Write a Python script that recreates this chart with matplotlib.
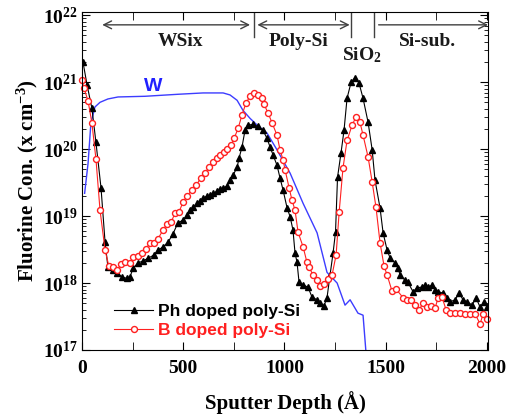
import numpy as np
import matplotlib
matplotlib.use('Agg')
import matplotlib.pyplot as plt
from matplotlib.ticker import MultipleLocator, LogLocator, FuncFormatter, NullFormatter

plt.rcParams['font.family'] = ['Liberation Serif', 'DejaVu Serif']
plt.rcParams['font.weight'] = 'bold'
plt.rcParams['mathtext.fontset'] = 'custom'
plt.rcParams['mathtext.rm'] = 'Liberation Serif:bold'
plt.rcParams['mathtext.bf'] = 'Liberation Serif:bold'
plt.rcParams['mathtext.it'] = 'Liberation Serif:bold'

# Ph doped poly-Si (depth in Å, log10 of F concentration)
ph_depth = [5, 25, 49, 69, 94, 114, 128, 153, 173, 198, 222, 237, 252, 277, 301, 326, 356, 375, 400, 425,
            450, 474, 499, 519, 534, 548, 568, 583, 598, 618, 632, 647, 667, 682, 697, 716, 731, 746, 766,
            776, 790, 805, 820, 845, 869, 894, 914, 929, 944, 963, 978, 993, 1013, 1028, 1042, 1052, 1062,
            1072, 1092, 1116, 1136, 1161, 1176, 1195, 1210, 1225, 1240, 1252, 1262, 1279, 1294, 1309,
            1329, 1349, 1368, 1388, 1413, 1433, 1447, 1472, 1487, 1507, 1522, 1546, 1561, 1571, 1596,
            1610, 1635, 1655, 1680, 1694, 1709, 1729, 1744, 1759, 1783, 1803, 1818, 1843, 1862, 1882,
            1902, 1927, 1946, 1966, 1986, 2001]
ph_log = [21.30, 20.96, 20.61, 20.10, 19.42, 18.61, 18.24, 18.19, 18.15, 18.09, 18.07, 18.09, 18.22, 18.30,
          18.33, 18.37, 18.42, 18.49, 18.54, 18.61, 18.74, 18.90, 18.94, 19.01, 19.09, 19.13, 19.19, 19.22,
          19.27, 19.30, 19.31, 19.34, 19.37, 19.40, 19.42, 19.45, 19.54, 19.61, 19.73, 19.87, 20.03, 20.28,
          20.36, 20.37, 20.34, 20.28, 20.16, 20.03, 19.91, 19.76, 19.57, 19.39, 19.12, 18.99, 18.79, 18.45,
          18.31, 18.01, 17.97, 17.94, 17.79, 17.75, 17.70, 17.66, 17.78, 18.12, 18.45, 18.76, 19.58, 19.94,
          20.28, 20.76, 21.00, 21.07, 20.99, 20.76, 20.40, 19.99, 19.54, 19.12, 18.75, 18.49, 18.37, 18.30,
          18.22, 18.12, 18.04, 18.01, 17.87, 17.93, 17.94, 17.97, 17.94, 17.97, 17.90, 17.87, 17.85, 17.78,
          17.72, 17.75, 17.85, 17.75, 17.72, 17.67, 17.78, 17.64, 17.72, 17.64]

# B doped poly-Si
b_depth = [0, 10, 30, 49, 69, 89, 114, 133, 153, 173, 193, 212, 237, 252, 277, 296, 316, 336, 356, 375,
           400, 420, 440, 459, 479, 499, 519, 543, 563, 588, 608, 627, 647, 667, 682, 701, 716, 736, 751,
           771, 790, 810, 830, 850, 869, 889, 899, 919, 939, 963, 978, 993, 1003, 1023, 1037, 1052, 1067,
           1092, 1111, 1121, 1141, 1161, 1176, 1195, 1215, 1235, 1255, 1270, 1289, 1309, 1334, 1353, 1373,
           1388, 1413, 1433, 1452, 1472, 1492, 1507, 1531, 1551, 1586, 1605, 1625, 1645, 1665, 1684, 1704,
           1724, 1744, 1759, 1778, 1798, 1818, 1843, 1867, 1892, 1917, 1941, 1966, 1981, 2001]
b_log = [21.03, 20.91, 20.72, 20.39, 19.85, 19.09, 18.49, 18.25, 18.24, 18.19, 18.28, 18.31, 18.30, 18.39,
         18.40, 18.45, 18.51, 18.60, 18.60, 18.66, 18.79, 18.88, 18.91, 19.04, 19.06, 19.21, 19.30, 19.39,
         19.46, 19.57, 19.64, 19.73, 19.81, 19.87, 19.91, 19.96, 20.01, 20.06, 20.16, 20.31, 20.51, 20.69,
         20.79, 20.84, 20.81, 20.76, 20.67, 20.54, 20.39, 20.21, 19.99, 19.84, 19.69, 19.42, 19.24, 19.09,
         18.76, 18.54, 18.31, 18.24, 18.12, 18.04, 17.95, 17.99, 18.06, 18.12, 18.42, 19.06, 19.72, 20.13,
         20.36, 20.48, 20.40, 20.21, 19.88, 19.51, 19.13, 18.60, 18.25, 18.12, 17.88, 17.91, 17.78, 17.75,
         17.75, 17.67, 17.60, 17.70, 17.64, 17.66, 17.63, 17.78, 17.79, 17.60, 17.55, 17.55, 17.55, 17.54,
         17.54, 17.54, 17.39, 17.54, 17.46]

# W signal
w_depth = [13, 30, 44, 64, 89, 128, 178, 311, 474, 598, 697, 731, 766, 795, 830, 865, 914, 963, 1028,
           1092, 1161, 1210, 1260, 1299, 1324, 1363, 1388, 1412]
w_log = [19.34, 19.79, 20.39, 20.63, 20.70, 20.75, 20.78, 20.79, 20.82, 20.84, 20.84, 20.81, 20.73, 20.58,
         20.46, 20.36, 20.24, 19.99, 19.64, 19.19, 18.75, 18.16, 18.00, 17.67, 17.75, 17.55, 17.52, 16.60]

# layer boundaries and labels
bounds = [850, 1330, 1440]
layers = ['WSix', 'Poly-Si', 'SiO$_\\mathbf{2}$', 'Si-sub.']
layer_x = [484, 1067, 1383, 1704]
layer_y = [4e21, 4e21, 2.5e21, 4e21]

fig = plt.figure(figsize=(5.08, 4.18), dpi=100)
ax = fig.add_axes([0.1614, 0.1627, 0.7992, 0.8086])

ax.plot(w_depth, 10 ** np.array(w_log), color='#3c3cff', lw=1.0)
ax.plot(ph_depth, 10 ** np.array(ph_log), color='black', lw=0.8, marker='^', ms=4.5,
        mfc='black', mec='black', label='Ph doped poly-Si')
ax.plot(b_depth, 10 ** np.array(b_log), color='#ff2020', lw=0.8, marker='o', ms=4.3,
        mfc='white', mec='#ff2020', mew=1.0, label='B doped poly-Si', clip_on=False)

ax.set_yscale('log')
ax.set_xlim(0, 2005)
ax.set_ylim(1e17, 1.12e22)

ax.xaxis.set_major_locator(MultipleLocator(500))
ax.xaxis.set_minor_locator(MultipleLocator(250))
ax.yaxis.set_major_locator(LogLocator(base=10, numticks=10))
ax.yaxis.set_minor_locator(LogLocator(base=10, subs=np.arange(2, 10), numticks=20))
ax.yaxis.set_minor_formatter(NullFormatter())
ax.yaxis.set_major_formatter(FuncFormatter(lambda v, p: r'$\mathbf{10^{%d}}$' % round(np.log10(v))))
ax.tick_params(axis='both', which='both', direction='in', top=True, right=True, labelsize=14)
ax.tick_params(axis='x', which='both', length=6, pad=7)
ax.tick_params(axis='y', which='major', length=6, pad=3)
ax.tick_params(axis='y', which='minor', length=3)
for lab in ax.get_xticklabels():
    lab.set_fontweight('bold')

ax.set_xlabel('Sputter Depth (Å)', fontsize=15, fontweight='bold', labelpad=10)
ax.set_ylabel('Fluorine Con. (x cm$^{\\mathbf{-3}}$)', fontsize=15, fontweight='bold', labelpad=2)

# layer markers at top
trans = ax.get_xaxis_transform()
for b in bounds:
    ax.plot([b, b], [0.925, 1.0], transform=trans, color='#404040', lw=1.0)
arr = dict(color='#404040', lw=1.0, mutation_scale=14, shrinkA=0, shrinkB=0)
ax.annotate('', xy=(100, 0.962), xytext=(830, 0.962), xycoords=trans, textcoords=trans,
            arrowprops=dict(arrowstyle='<->', **arr))
ax.annotate('', xy=(866, 0.962), xytext=(1322, 0.962), xycoords=trans, textcoords=trans,
            arrowprops=dict(arrowstyle='<->', **arr))
ax.annotate('', xy=(1465, 0.962), xytext=(2005, 0.962), xycoords=trans, textcoords=trans,
            arrowprops=dict(arrowstyle='<-', **arr))
for name, lx, ly in zip(layers, layer_x, layer_y):
    ax.text(lx, ly, name, ha='center', va='center', fontsize=14, fontweight='bold', color='#1a1a1a')

ax.text(351, 8.5e20, 'W', ha='center', va='center', fontsize=14, fontweight='bold',
        color='#2020ff', family=['Liberation Sans', 'DejaVu Sans'])

leg = ax.legend(loc='lower left', bbox_to_anchor=(0.05, 0.0), frameon=False, handlelength=2.2,
                handletextpad=0.3, labelspacing=0.2, borderaxespad=0.3,
                prop={'family': ['Liberation Sans', 'DejaVu Sans'], 'weight': 'bold', 'size': 12.5})
for t, c in zip(leg.get_texts(), ['black', '#ff2020']):
    t.set_color(c)

fig.savefig('out.png', dpi=100)
